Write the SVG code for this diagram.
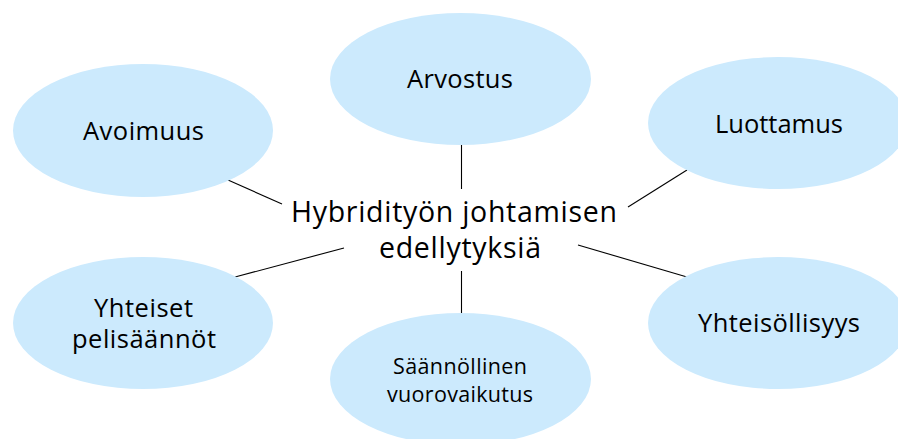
<svg xmlns="http://www.w3.org/2000/svg" width="898" height="439" viewBox="0 0 898 439">
<style>
.node ellipse{fill:#CCEAFD;stroke:none}
.lbl{font-family:"Open Sans","Liberation Sans",sans-serif;font-size:25.5px;fill:#000}
.sm{font-size:21.5px}
.title{font-size:28.5px}
.conn line{stroke:#000;stroke-width:1.1}
</style>
<rect width="898" height="439" fill="#fff"/>
<g id="connectors" class="conn">
<line x1="461.5" y1="145" x2="461.5" y2="189"/>
<line x1="228" y1="180" x2="282" y2="204"/>
<line x1="628" y1="207" x2="687" y2="170"/>
<line x1="235" y1="277" x2="344" y2="248"/>
<line x1="578" y1="245" x2="687" y2="277"/>
<line x1="461.5" y1="271" x2="461.5" y2="314"/>
</g>
<g id="arvostus" class="node"><ellipse cx="460.5" cy="79" rx="130.5" ry="66"/><text class="lbl" x="407" y="88" textLength="106">Arvostus</text></g>
<g id="avoimuus" class="node"><ellipse cx="143" cy="130.5" rx="130" ry="66.5"/><text class="lbl" x="83" y="140" textLength="121">Avoimuus</text></g>
<g id="luottamus" class="node"><ellipse cx="778" cy="123" rx="130" ry="66"/><text class="lbl" x="715" y="133" textLength="128">Luottamus</text></g>
<g id="yhteiset" class="node"><ellipse cx="143" cy="323" rx="130" ry="66"/><text class="lbl" x="94" y="317" textLength="99">Yhteiset</text><text class="lbl" x="72" y="348" textLength="144">pelisäännöt</text></g>
<g id="yhteisollisyys" class="node"><ellipse cx="778" cy="323" rx="130" ry="66"/><text class="lbl" x="698" y="332" textLength="162">Yhteisöllisyys</text></g>
<g id="saannollinen" class="node"><ellipse cx="460.5" cy="379" rx="130.5" ry="66"/><text class="lbl sm" x="393" y="374" textLength="134">Säännöllinen</text><text class="lbl sm" x="387" y="402" textLength="146">vuorovaikutus</text></g>
<g id="center" class="node"><text class="lbl title" x="291" y="222" textLength="326">Hybridityön johtamisen</text><text class="lbl title" x="379" y="258" textLength="162">edellytyksiä</text></g>
</svg>
